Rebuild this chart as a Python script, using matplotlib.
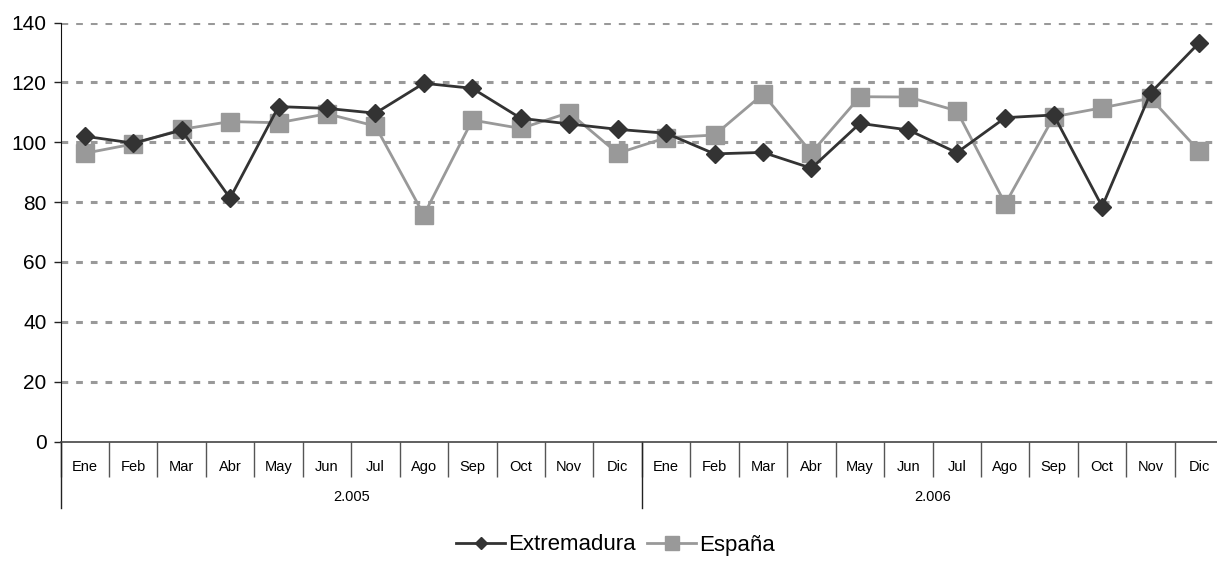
import numpy as np
import matplotlib
matplotlib.use('Agg')
import matplotlib.pyplot as plt
from matplotlib.lines import Line2D

plt.rcParams['font.family'] = ['Liberation Sans', 'DejaVu Sans']

months = ['Ene', 'Feb', 'Mar', 'Abr', 'May', 'Jun',
          'Jul', 'Ago', 'Sep', 'Oct', 'Nov', 'Dic']
years = ['2.005', '2.006']
labels = months * 2

extremadura = [102.0, 99.7, 104.0, 81.3, 111.9, 111.3, 109.7, 119.7, 118.0, 108.0, 106.1, 104.3,
               103.0, 96.1, 96.6, 91.3, 106.3, 104.1, 96.5, 108.2, 109.1, 78.5, 116.5, 133.2]
espana = [96.3, 99.4, 104.3, 106.9, 106.5, 109.5, 105.4, 75.7, 107.4, 104.6, 109.9, 96.3,
          101.5, 102.4, 116.1, 96.5, 115.2, 115.1, 110.5, 79.4, 108.5, 111.5, 114.7, 97.1]

W, H = 1217, 569
fig = plt.figure(figsize=(W / 100, H / 100), dpi=100)
# the last category runs past the right edge of the picture, as in the original
x0, x1, ytop, ybot = 60.5, 1223.3, 22.5, 441.5
ax = fig.add_axes([x0 / W, 1 - ybot / H, (x1 - x0) / W, (ybot - ytop) / H])

x = np.arange(len(labels))
ax.plot(x, espana, color='#999999', lw=2.0, marker='s', ms=12.5, zorder=3)
ax.plot(x, extremadura, color='#333333', lw=2.0, marker='D', ms=9, zorder=4)

ax.set_xlim(-0.5, len(labels) - 0.5)
ax.set_ylim(0, 140)
ax.set_yticks(range(0, 141, 20))
ax.tick_params(axis='y', labelsize=15, length=5, width=1, color='#222222', pad=5)
for yv in range(20, 141, 20):
    ax.axhline(yv, color='#999999', lw=2.2, dashes=(2.2, 2.6), zorder=1)

for s in ['top', 'right']:
    ax.spines[s].set_visible(False)
ax.spines['left'].set_color('#111111')
ax.spines['bottom'].set_color('#444444')
ax.spines['bottom'].set_linewidth(1.2)

# month labels and separators
ax.set_xticks(x)
ax.set_xticklabels(labels, fontsize=10.5)
ax.tick_params(axis='x', which='major', length=0, pad=13)
ax.set_xticks(np.arange(-0.5, len(labels), 1), minor=True)
ax.tick_params(axis='x', which='minor', length=25, width=1, color='#555555')

# year groups
trans = ax.get_xaxis_transform()
ax_h = ybot - ytop
for k, yr in enumerate(years):
    ax.text(k * 12 + 5.5, -(497 - ybot) / ax_h, yr, transform=trans,
            ha='center', va='center', fontsize=10.5)
for xb in [-0.5, 11.5, 23.5]:
    ax.plot([xb, xb], [0, -(508 - ybot) / ax_h], transform=trans,
            color='#222222', lw=1, clip_on=False)

handles = [Line2D([], [], color='#333333', lw=2.0, marker='D', ms=6.5),
           Line2D([], [], color='#999999', lw=2.0, marker='s', ms=10)]
fig.legend(handles, ['Extremadura', 'España'], loc='center',
           bbox_to_anchor=(0.506, 1 - 545 / H), ncol=2, frameon=False,
           fontsize=16, handlelength=2.2, handletextpad=0.15, columnspacing=0.5)

fig.savefig('out.png', dpi=100)
